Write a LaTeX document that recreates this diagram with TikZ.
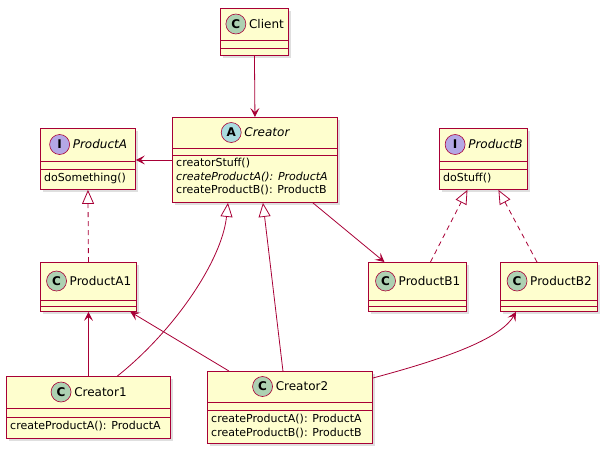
\documentclass[tikz,border=0pt]{standalone}
\usepackage{fontspec}
\setmainfont{DejaVu Sans}
\usetikzlibrary{arrows.meta,shadows}
\definecolor{umlred}{HTML}{A80036}
\definecolor{umlfill}{HTML}{FEFECE}
\definecolor{circC}{HTML}{ADD1B2}
\definecolor{circI}{HTML}{B4A7E5}
\definecolor{circA}{HTML}{A9DCDF}
\tikzset{
	box/.style={draw=umlred, fill=umlfill, line width=0.9pt, inner sep=0pt, anchor=north west,
		drop shadow={shadow xshift=3pt, shadow yshift=-3pt, opacity=0.25}},
	circ/.style={circle, draw=umlred, line width=0.6pt, minimum size=20pt, inner sep=0pt, font=\bfseries\fontsize{12}{12}\selectfont},
	meth/.style={anchor=north west, align=left, inner sep=0pt, font=\fontsize{11}{13.5}\selectfont},
	ttl/.style={inner sep=0pt, font=\fontsize{12}{14}\selectfont},
	link/.style={umlred, line width=0.8pt},
	uses/.style={link, -{Stealth[length=9pt,width=9pt,inset=4pt]}},
	inherit/.style={link, -{Triangle[open,length=14pt,width=12pt]}},
	realize/.style={inherit, dash pattern=on 5pt off 4pt},
}
% box: name, x, y, width, height, first divider, second divider
\newcommand{\classbox}[7]{
	\node[box, minimum width=#4pt, minimum height=#5pt] (#1) at (#2,#3) {};
	\draw[link] ([yshift=-#6pt]#1.north west) -- ([yshift=-#6pt]#1.north east);
	\draw[link] ([yshift=-#7pt]#1.north west) -- ([yshift=-#7pt]#1.north east);
}
% head: name, header height, circle colour, letter, title
\newcommand{\classhead}[5]{
	\node[ttl] (#1-t) at ([xshift=12pt, yshift=-#2pt/2]#1.north) {#5};
	\node[circ, fill=#3] at ([xshift=-13pt]#1-t.west) {#4};
}
\begin{document}
\begin{tikzpicture}[x=1pt, y=-1pt]
	\useasboundingbox (0,0) rectangle (607,453);
	\classbox{client}{220}{8}{68}{47}{32}{40}
	\classhead{client}{32}{circC}{C}{Client}
	\classbox{creator}{172}{117}{165}{85}{31}{38}
	\classhead{creator}{31}{circA}{A}{\itshape Creator}
	\node[meth] at ([xshift=4pt, yshift=-41pt]creator.north west) {creatorStuff()\\\textit{createProductA(): ProductA}\\createProductB(): ProductB};
	\classbox{prodA}{40}{128}{95}{61}{33}{41}
	\classhead{prodA}{33}{circI}{I}{\itshape ProductA}
	\node[meth] at ([xshift=4pt, yshift=-45pt]prodA.north west) {doSomething()};
	\classbox{prodB}{439}{128}{88}{61}{33}{41}
	\classhead{prodB}{33}{circI}{I}{\itshape ProductB}
	\node[meth] at ([xshift=4pt, yshift=-45pt]prodB.north west) {doStuff()};
	\classbox{prodA1}{40}{262}{96}{49}{38}{44}
	\classhead{prodA1}{38}{circC}{C}{ProductA1}
	\classbox{prodB1}{368}{262}{98}{49}{38}{44}
	\classhead{prodB1}{38}{circC}{C}{ProductB1}
	\classbox{prodB2}{500}{262}{97}{49}{38}{44}
	\classhead{prodB2}{38}{circC}{C}{ProductB2}
	\classbox{creator1}{6}{376}{164}{62}{32}{41}
	\classhead{creator1}{32}{circC}{C}{Creator1}
	\node[meth] at ([xshift=4pt, yshift=-45pt]creator1.north west) {createProductA(): ProductA};
	\classbox{creator2}{207}{371}{165}{72}{31}{39}
	\classhead{creator2}{31}{circC}{C}{Creator2}
	\node[meth] at ([xshift=4pt, yshift=-43pt]creator2.north west) {createProductA(): ProductA\\createProductB(): ProductB};
	% associations
	\draw[uses] (client.south) -- (creator.north);
	\draw[uses] (creator.west) -- (prodA.east |- creator.west);
	\draw[uses] ([xshift=58pt]creator.south) -- ([xshift=-33pt]prodB1.north);
	\draw[uses] (creator1.north) -- (prodA1.south);
	\draw[uses] ([xshift=-61pt]creator2.north) -- ([xshift=42pt]prodA1.south);
	\draw[uses] ([yshift=-7pt]creator2.north east) .. controls (440,360) and (500,340) .. ([xshift=-33pt]prodB2.south);
	% generalisations
	\draw[realize] (prodA1.north) -- (prodA.south);
	\draw[realize] ([xshift=13pt]prodB1.north) -- ([xshift=-16pt]prodB.south);
	\draw[realize] ([xshift=-12pt]prodB2.north) -- ([xshift=15pt]prodB.south);
	\draw[inherit] ([xshift=29pt]creator1.north) .. controls (175,330) and (222,260) .. ([xshift=-27pt]creator.south);
	\draw[inherit] ([xshift=-7pt]creator2.north) -- ([xshift=8pt]creator.south);
\end{tikzpicture}
\end{document}
